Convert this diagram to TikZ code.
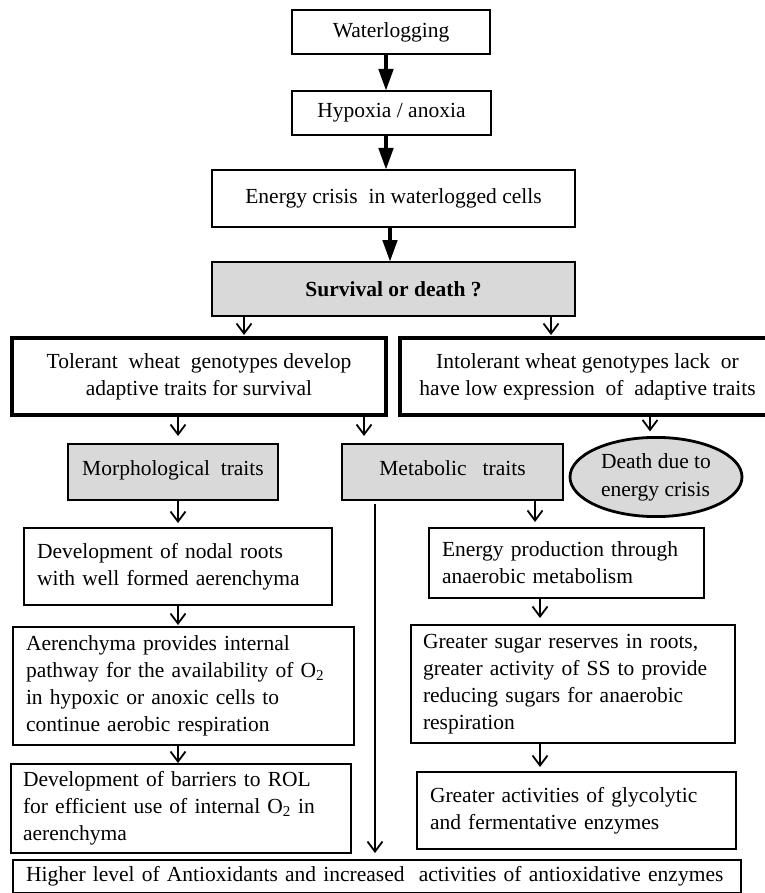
\documentclass[tikz,border=0pt]{standalone}
\usepackage{fontspec}
\setmainfont{Liberation Serif}
\usetikzlibrary{arrows.meta,shapes.geometric}
\definecolor{grayfill}{HTML}{D9D9D9}
\newcommand\fsz{\fontsize{21.5}{27}\selectfont}
\begin{document}
\begin{tikzpicture}[x=1pt,y=-1pt,
  box/.style={draw, line width=2.8pt, outer sep=0pt, inner xsep=13pt, inner ysep=0pt, anchor=north west, font=\fsz},
  lbox/.style={box, align=left},
  cbox/.style={box, align=center},
  graybox/.style={fill=grayfill},
  heavyarrow/.style={line width=4.5pt, -{Triangle[length=22pt,width=14pt]}},
  lightarrow/.style={line width=1.8pt, -{Straight Barb[length=10pt,width=15pt,line width=1.8pt]}}
]
\useasboundingbox (0,0) rectangle (764,893);
\fill[white] (0,0) rectangle (764,893);

% column coordinates for connectors
\coordinate (cTop) at (386,0);
\coordinate (cEn) at (390,0);
\coordinate (cSa) at (244,0);
\coordinate (cSb) at (551,0);
\coordinate (cM) at (178,0);
\coordinate (cMt) at (364,0);
\coordinate (cI) at (650,0);
\coordinate (cL) at (375,0);
\coordinate (cE) at (535,0);
\coordinate (cR) at (540,0);

% boxes
\node[cbox, minimum width=198, minimum height=44] (wl) at (292,10) {Waterlogging};
\node[cbox, minimum width=199, minimum height=44] (hyp) at (292,91) {Hypoxia / anoxia};
\node[cbox, minimum width=363, minimum height=57] (en) at (212,170) {Energy crisis\ \ in waterlogged cells};
\node[cbox, graybox, minimum width=363, minimum height=54, font=\fsz\bfseries] (surv) at (212,262) {Survival or death ?};

\node[cbox, line width=3.5pt, minimum width=374, minimum height=77] (tol) at (12,338)
  {\raisebox{3pt}{\begin{tabular}{@{}c@{}}Tolerant\ \ wheat\ \ genotypes develop\\adaptive traits for survival\end{tabular}}};
\node[cbox, line width=3.5pt, minimum width=375, minimum height=77] (intol) at (400,338)
  {\raisebox{3pt}{\begin{tabular}{@{}c@{}}Intolerant wheat genotypes lack\ \ or\\have low expression\ \ of\ \ adaptive traits\end{tabular}}};

\node[cbox, graybox, minimum width=210, minimum height=56] (morph) at (68,444) {\raisebox{7pt}{Morphological\ \ traits}};
\node[cbox, graybox, minimum width=221, minimum height=56] (metab) at (342,444) {\raisebox{7pt}{Metabolic\ \ \ traits}};

\node[ellipse, draw, line width=2.8pt, fill=grayfill, outer sep=0pt, inner sep=0pt,
  minimum width=172, minimum height=69, font=\fontsize{21.5}{28}\selectfont] (death) at (656,477)
  {\begin{tabular}{@{}l@{}}Death due to\\energy crisis\end{tabular}};

\node[lbox, minimum width=308, minimum height=77, text width=282] (dev) at (24,528)
  {Development of nodal roots\\with well formed aerenchyma};
\node[lbox, minimum width=275, minimum height=70, text width=249] (eprod) at (429,528)
  {Energy production through\\anaerobic metabolism};
\node[lbox, minimum width=341, minimum height=118, text width=315] (aer) at (13,627)
  {Aerenchyma provides internal\\pathway for the availability of O\textsubscript{2}\\in hypoxic or anoxic cells to\\continue aerobic respiration};
\node[lbox, inner xsep=12pt, minimum width=324, minimum height=118, text width=300] (sugar) at (411,625)
  {Greater sugar reserves in roots,\\greater activity of SS to provide\\reducing sugars for anaerobic\\respiration};
\node[lbox, inner xsep=12pt, minimum width=340, minimum height=89, text width=316] (barr) at (11,764)
  {Development of barriers to ROL\\for efficient use of internal O\textsubscript{2} in\\aerenchyma};
\node[lbox, minimum width=319, minimum height=77, text width=293] (glyc) at (417,772)
  {Greater activities of glycolytic\\and fermentative enzymes};
\node[lbox, minimum width=728, minimum height=33, text width=702] (high) at (13,860)
  {\raisebox{-3pt}{Higher level of Antioxidants and increased\ \ activities of antioxidative enzymes}};

% connectors
\draw[heavyarrow] (wl.south -| cTop) -- (hyp.north -| cTop);
\draw[heavyarrow] (hyp.south -| cTop) -- (en.north -| cTop);
\draw[heavyarrow] (en.south -| cEn) -- (surv.north -| cEn);
\draw[lightarrow, shorten >=3pt] (surv.south -| cSa) -- (tol.north -| cSa);
\draw[lightarrow, shorten >=3pt] (surv.south -| cSb) -- (intol.north -| cSb);
\draw[lightarrow, shorten >=8pt] (tol.south -| cM) -- (morph.north -| cM);
\draw[lightarrow, shorten >=8pt] (tol.south -| cMt) -- (metab.north -| cMt);
\draw[lightarrow, shorten >=6pt] (intol.south -| cI) -- (death.north -| cI);
\draw[lightarrow, shorten >=5pt] (morph.south -| cM) -- (dev.north -| cM);
\draw[lightarrow, shorten >=6pt] (metab.south -| cE) -- (eprod.north -| cE);
\draw[lightarrow, shorten >=2pt] (dev.south -| cM) -- (aer.north -| cM);
\draw[lightarrow, shorten >=7pt] (eprod.south -| cR) -- (sugar.north -| cR);
\draw[lightarrow, shorten >=1pt] (aer.south -| cM) -- (barr.north -| cM);
\draw[lightarrow, shorten >=5pt] (sugar.south -| cR) -- (glyc.north -| cR);
\draw[lightarrow, shorten <=4pt, shorten >=7pt] (metab.south -| cL) -- (high.north -| cL);
\end{tikzpicture}
\end{document}
